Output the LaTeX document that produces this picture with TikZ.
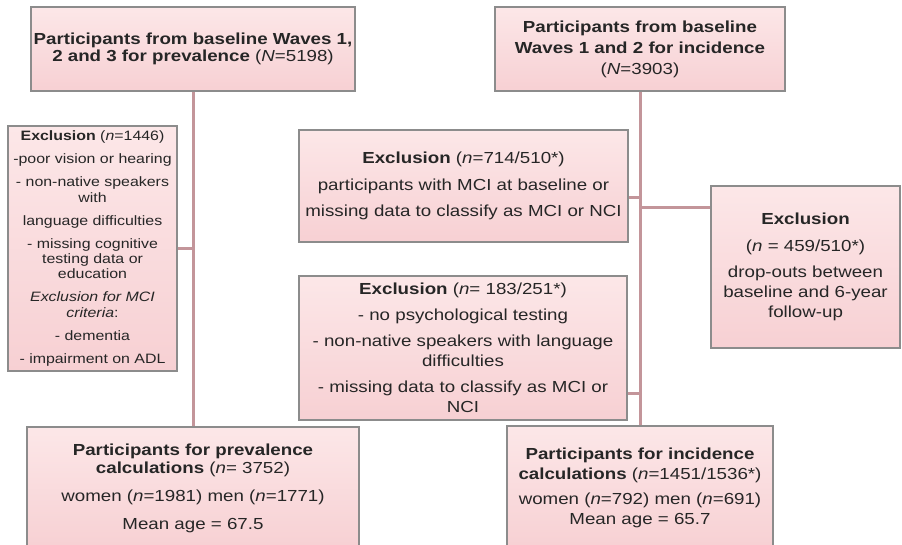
\documentclass[tikz,border=0pt]{standalone}
\usepackage{fontspec}
\setmainfont[FakeStretch=1.17]{Liberation Sans}
\definecolor{boxtop}{HTML}{FCE7E8}
\definecolor{boxbot}{HTML}{F7D0D3}
\definecolor{boxline}{HTML}{8C8C8C}
\definecolor{linkline}{HTML}{C3959A}
\definecolor{ink}{HTML}{262626}
\begin{document}
\begin{tikzpicture}[x=0.75pt,y=-0.75pt,
  flowbox/.style={draw=boxline, line width=1.1pt, rectangle, top color=boxtop, bottom color=boxbot,
    align=center, inner sep=0pt, text=ink},
  link/.style={draw=linkline, line width=2.25pt}]
\useasboundingbox (0,0) rectangle (902,544);
\node[flowbox, minimum width=243pt, minimum height=63pt, font=\fontsize{12}{12.5}\selectfont] (prev) at (193,49)
  {\textbf{Participants from baseline Waves 1,}\\ \textbf{2 and 3 for prevalence} (\textit{N}=5198)};
\node[flowbox, minimum width=217.5pt, minimum height=63pt, font=\fontsize{12}{15.75}\selectfont] (inc) at (640,49)
  {\textbf{Participants from baseline}\\ \textbf{Waves 1 and 2 for incidence}\\ (\textit{N}=3903)};
\node[flowbox, minimum width=126.75pt, minimum height=183.75pt, font=\fontsize{10.2}{11.6}\selectfont] (exprev) at (92.5,248.5)
  {\textbf{Exclusion} (\textit{n}=1446)\\[5.6pt] -poor vision or hearing\\[5.6pt] - non-native speakers\\ with\\[5.6pt]
   language difficulties\\[5.6pt] - missing cognitive\\ testing data or\\ education\\[5.6pt]
   \textit{Exclusion for MCI}\\ \textit{criteria}:\\[5.6pt] - dementia\\[5.6pt] - impairment on ADL};
\node[flowbox, minimum width=246.75pt, minimum height=84pt, font=\fontsize{12}{19.9}\selectfont] (exmci) at (463.5,186)
  {\textbf{Exclusion} (\textit{n}=714/510*)\\ participants with MCI at baseline or\\ missing data to classify as MCI or NCI};
\node[flowbox, minimum width=246pt, minimum height=108pt, font=\fontsize{12}{15}\selectfont] (expsy) at (463,348)
  {\textbf{Exclusion} (\textit{n}= 183/251*)\\[4.5pt] - no psychological testing\\[4.5pt]
   - non-native speakers with language\\ difficulties\\[4.5pt] - missing data to classify as MCI or\\ NCI};
\node[flowbox, minimum width=141.75pt, minimum height=121.5pt, font=\fontsize{12}{15}\selectfont] (exdrop) at (805.5,267)
  {\textbf{Exclusion}\\[5pt] (\textit{n} = 459/510*)\\[5pt] drop-outs between\\ baseline and 6-year\\ follow-up};
\node[flowbox, minimum width=249pt, minimum height=92.25pt, font=\fontsize{12}{13.5}\selectfont] (calcprev) at (193,488.5)
  {\textbf{Participants for prevalence}\\ \textbf{calculations} (\textit{n}= 3752)\\[7.5pt]
   women (\textit{n}=1981) men (\textit{n}=1771)\\[7.5pt] Mean age = 67.5};
\node[flowbox, minimum width=199.5pt, minimum height=93pt, font=\fontsize{12}{15}\selectfont] (calcinc) at (640,488)
  {\textbf{Participants for incidence}\\ \textbf{calculations} (\textit{n}=1451/1536*)\\[3.75pt]
   women (\textit{n}=792) men (\textit{n}=691)\\ Mean age = 65.7};
\coordinate (mcijoin) at (640,197);
\coordinate (dropjoin) at (640,207);
\coordinate (psyjoin) at (640,393);
\draw[link] (prev.south) -- (calcprev.north);
\draw[link] (inc.south) -- (calcinc.north);
\draw[link] (exprev.east) -- (exprev.east -| prev.south);
\draw[link] (exmci.east |- mcijoin) -- (mcijoin);
\draw[link] (dropjoin) -- (exdrop.west |- dropjoin);
\draw[link] (expsy.east |- psyjoin) -- (psyjoin);
\end{tikzpicture}
\end{document}
